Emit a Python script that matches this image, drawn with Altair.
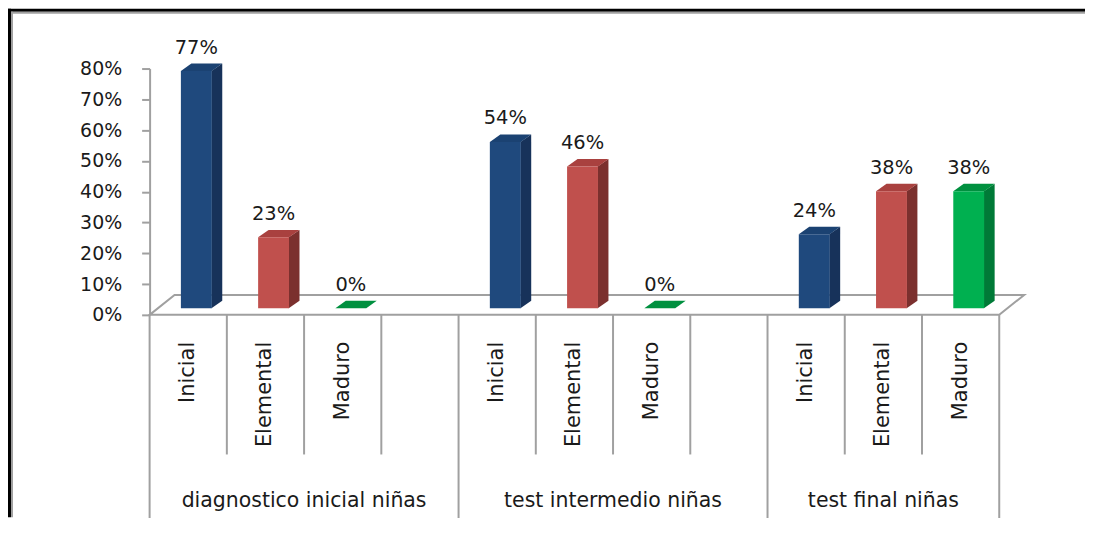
import altair as alt
import pandas as pd

# ---------------- data ----------------
groups = ["diagnostico inicial niñas", "test intermedio niñas", "test final niñas"]
levels = ["Inicial", "Elemental", "Maduro"]
inicial = [77, 54, 24]
elemental = [23, 46, 38]
maduro = [0, 0, 38]
slots_per_group = [4, 4, 3]
y_ticks = [0, 10, 20, 30, 40, 50, 60, 70, 80]

series = [inicial, elemental, maduro]

# ---------------- style ----------------
front_colors = ["#1F497D", "#C0504D", "#00B050"]
top_colors = ["#1B4272", "#A9413F", "#00903F"]
side_colors = ["#17325A", "#7B302E", "#007A37"]
GRAY = "#A0A0A0"
TXT = "#1a1a1a"
FONT = "DejaVu Sans"

W, H = 852, 247
YMAX = 80
NS = sum(slots_per_group)
SLOT_PX = W / NS
YPX = H / YMAX
FL, FR = 0.405, 0.805          # front face within slot (fraction)
DX = 10.5 / SLOT_PX            # bar depth (x, slot units)
DY = 7.5 / YPX                 # bar depth (y, value units)
BASE = 6.7 / YPX               # front face baseline above floor front edge
FX = 25 / SLOT_PX              # floor depth x
FY = 20 / YPX                  # floor depth y

starts = []
s = 0
for n in slots_per_group:
    starts.append(s)
    s += n

front_rows, side_rows, top_rows, lab_rows = [], [], [], []
for g in range(len(groups)):
    for k in range(len(levels)):
        v = series[k][g]
        slot = starts[g] + k
        xl, xr = slot + FL, slot + FR
        top = BASE + v
        bid = f"{g}-{k}"
        front_rows.append(dict(id=bid, xl=xl, xr=xr, top=top, base=BASE, c=front_colors[k]))
        side_rows += [
            dict(id=bid, x=xr - 0.004, y=top, y2=BASE, c=side_colors[k]),
            dict(id=bid, x=xr + DX, y=top + DY, y2=BASE + DY, c=side_colors[k]),
        ]
        top_rows += [
            dict(id=bid, x=xl, y=top, y2=top, c=top_colors[k]),
            dict(id=bid, x=xl + DX, y=top + DY, y2=top, c=top_colors[k]),
            dict(id=bid, x=xr, y=top + DY, y2=top, c=top_colors[k]),
            dict(id=bid, x=xr + DX, y=top + DY, y2=top + DY, c=top_colors[k]),
        ]
        lab_rows.append(dict(x=(xl + xr) / 2, y=top + DY, t=f"{v}%"))

front_df = pd.DataFrame(front_rows)
side_df = pd.DataFrame(side_rows)
top_df = pd.DataFrame(top_rows)
lab_df = pd.DataFrame(lab_rows)

floor_df = pd.DataFrame([
    dict(x=0, y=0, y2=0),
    dict(x=FX, y=FY, y2=0),
    dict(x=NS, y=FY, y2=0),
    dict(x=NS + FX, y=FY, y2=FY),
])

inner_ticks, group_ticks, cat_rows, grp_rows = [], [], [], []
for g, n in enumerate(slots_per_group):
    group_ticks.append(dict(x=starts[g]))
    for j in range(1, n):
        inner_ticks.append(dict(x=starts[g] + j))
    for k in range(len(levels)):
        cat_rows.append(dict(x=starts[g] + k + 0.5, t=levels[k]))
    grp_rows.append(dict(x=starts[g] + n / 2, t=groups[g]))
group_ticks.append(dict(x=NS))

xs = alt.Scale(domain=[0, NS], nice=False, zero=False)
ys = alt.Scale(domain=[0, YMAX], nice=False, zero=False)

YAX = alt.Axis(values=y_ticks, labelExpr="datum.value + '%'", grid=False,
               domain=True, domainColor=GRAY, domainWidth=2,
               ticks=True, tickColor=GRAY, tickWidth=2, tickSize=8,
               labelPadding=20, labelFont=FONT, labelFontSize=19,
               labelColor=TXT, title=None)

X = lambda f: alt.X(f"{f}:Q", scale=xs, axis=None)
Y = lambda f: alt.Y(f"{f}:Q", scale=ys, title=None, axis=YAX)

floor = alt.Chart(floor_df).mark_area(fill="white", stroke=GRAY, strokeWidth=2).encode(
    x=X("x"), y=Y("y"), y2="y2")

side = alt.Chart(side_df).mark_area().encode(
    x=X("x"), y=Y("y"), y2="y2", detail="id:N", fill=alt.Fill("c:N", scale=None))

topf = alt.Chart(top_df).mark_area().encode(
    x=X("x"), y=Y("y"), y2="y2", detail="id:N", fill=alt.Fill("c:N", scale=None))

front = alt.Chart(front_df).mark_rect().encode(
    x=X("xl"), x2="xr", y=Y("top"), y2="base", fill=alt.Fill("c:N", scale=None))

labels = alt.Chart(lab_df).mark_text(font=FONT, fontSize=19.5, color=TXT,
                                     baseline="alphabetic", dy=-10).encode(
    x=X("x"), y=Y("y"), text="t:N")

inner = alt.Chart(pd.DataFrame(inner_ticks)).mark_rule(color=GRAY, strokeWidth=2).encode(
    x=X("x"), y=alt.value(H), y2=alt.value(H + 140))
gticks = alt.Chart(pd.DataFrame(group_ticks)).mark_rule(color=GRAY, strokeWidth=2).encode(
    x=X("x"), y=alt.value(H), y2=alt.value(H + 207))

cats = alt.Chart(pd.DataFrame(cat_rows)).mark_text(
    font=FONT, fontSize=21, color=TXT, angle=270, align="right", baseline="middle").encode(
    x=X("x"), y=alt.value(H + 27), text="t:N")

grps = alt.Chart(pd.DataFrame(grp_rows)).mark_text(
    font=FONT, fontSize=20.5, color=TXT, baseline="middle").encode(
    x=X("x"), y=alt.value(H + 187), text="t:N")

PL, PT, PR, PB = 142, 60, 86, 203
frame_df = pd.DataFrame([dict(k=0)])
f_top = alt.Chart(frame_df).mark_rule(color="black", strokeWidth=3).encode(
    x=alt.value(-PL), x2=alt.value(W + PR), y=alt.value(-PT + 1.5))
f_top2 = alt.Chart(frame_df).mark_rule(color=GRAY, strokeWidth=2).encode(
    x=alt.value(-PL + 3), x2=alt.value(W + PR), y=alt.value(-PT + 4))
f_left = alt.Chart(frame_df).mark_rule(color="black", strokeWidth=3).encode(
    x=alt.value(-PL + 1.5), y=alt.value(-PT), y2=alt.value(H + PB))
f_left2 = alt.Chart(frame_df).mark_rule(color=GRAY, strokeWidth=2).encode(
    x=alt.value(-PL + 4), y=alt.value(-PT + 3), y2=alt.value(H + PB))

chart = alt.layer(
    floor, side, topf, front, labels, inner, gticks, cats, grps,
    f_top, f_top2, f_left, f_left2
).properties(
    width=W, height=H,
    autosize=alt.AutoSizeParams(type="none"),
    padding={"left": PL, "top": PT, "right": PR, "bottom": PB},
    background="white",
).configure_view(stroke=None)

chart.save("out.html", embed_options={"renderer": "svg", "actions": False})
